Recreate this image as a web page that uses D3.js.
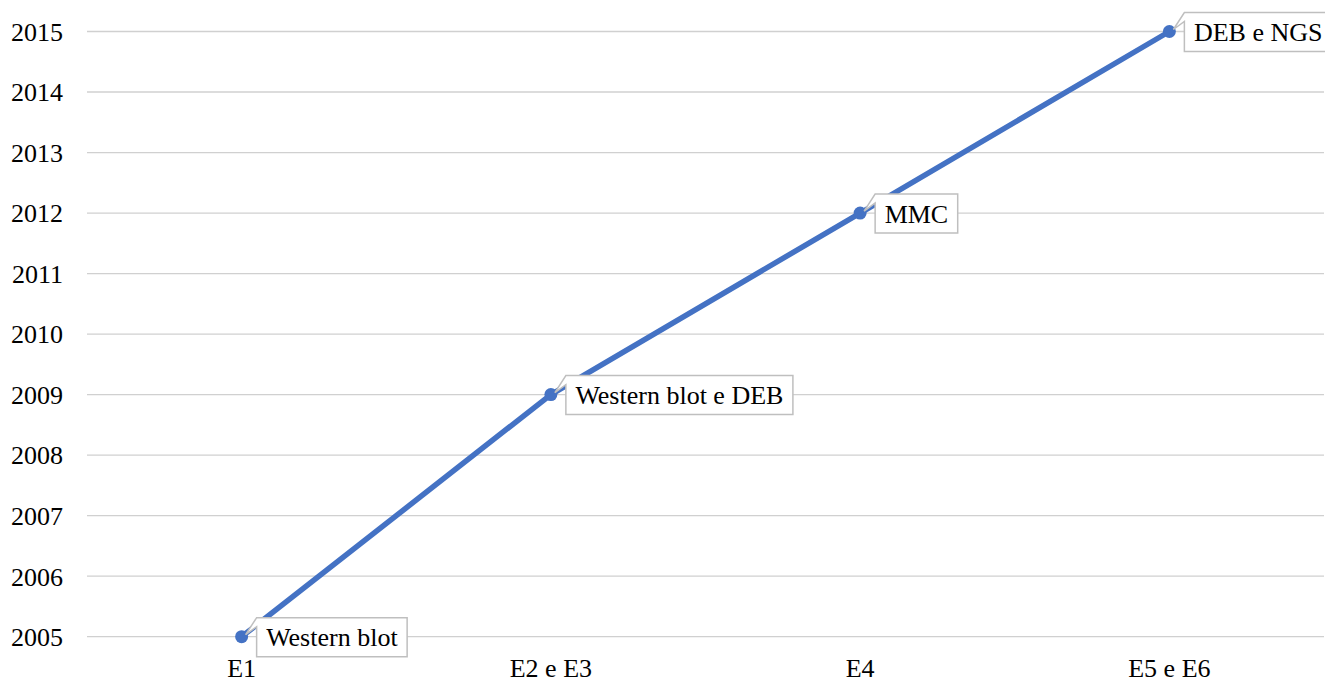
<!DOCTYPE html>
<html><head><meta charset="utf-8">
<script src="https://cdn.jsdelivr.net/npm/d3@7"></script>
<style>
html,body{margin:0;padding:0;background:#fff;}
svg{display:block;}
text{font-family:"Liberation Serif","Times New Roman",serif;fill:#000;}
</style></head>
<body>
<svg id="chart" width="1325" height="680"></svg>
<script>
const categories = ["E1", "E2 e E3", "E4", "E5 e E6"];
const years = [2005, 2009, 2012, 2015];
const pointLabels = ["Western blot", "Western blot e DEB", "MMC", "DEB e NGS"];
const yTicks = [2005, 2006, 2007, 2008, 2009, 2010, 2011, 2012, 2013, 2014, 2015];

const W = 1325, H = 680;
const margin = {left: 87, right: 1, top: 31.5, bottom: 43.3};
const FS = 26;
const svg = d3.select("#chart");

const x = d3.scaleBand().domain(categories).range([margin.left, W - margin.right]);
const y = d3.scaleLinear().domain([2005, 2015]).range([H - margin.bottom, margin.top]);

// gridlines
svg.append("g").selectAll("line").data(yTicks).join("line")
  .attr("x1", margin.left).attr("x2", W - margin.right)
  .attr("y1", d => y(d)).attr("y2", d => y(d))
  .attr("stroke", "#d0d0d0").attr("stroke-width", 1.3);

// y axis labels
const yAxis = d3.axisLeft(y).tickValues(yTicks).tickFormat(d3.format("d")).tickSize(0).tickPadding(0);
const gy = svg.append("g").attr("transform", "translate(63,0)").call(yAxis);
gy.attr("font-family", null).attr("font-size", null);
gy.select(".domain").remove();
gy.selectAll("text").attr("font-size", FS).attr("fill", "#000").attr("dy", "0.34em");

// x axis labels
const xAxis = d3.axisBottom(x).tickSize(0).tickPadding(0);
const gx = svg.append("g").attr("transform", `translate(0,${H - 22})`).call(xAxis);
gx.attr("font-family", null).attr("font-size", null);
gx.select(".domain").remove();
gx.selectAll("text").attr("font-size", FS).attr("fill", "#000").attr("dy", "0.73em");

const pts = categories.map((c, i) => ({cx: x(c) + x.bandwidth() / 2, cy: y(years[i]), label: pointLabels[i]}));

// line
const line = d3.line().x(d => d.cx).y(d => d.cy);
svg.append("path").datum(pts).attr("d", line)
  .attr("fill", "none").attr("stroke", "#4472C4").attr("stroke-width", 5.5).attr("stroke-linejoin", "round");

// markers
svg.append("g").selectAll("circle").data(pts).join("circle")
  .attr("cx", d => d.cx).attr("cy", d => d.cy).attr("r", 6.5).attr("fill", "#4472C4");

// callout labels
const lg = svg.append("g");
pts.forEach(d => {
  const g = lg.append("g");
  const t = g.append("text").attr("font-size", FS).text(d.label);
  const tw = t.node().getComputedTextLength();
  const bx = d.cx + 15, by = d.cy - 19, bw = tw + 19, bh = 39;
  const tipX = d.cx + 4, tipY = d.cy - 2;
  const path = `M${bx},${by} L${bx + bw},${by} L${bx + bw},${by + bh} L${bx},${by + bh} L${bx},${by + 9} L${tipX},${tipY} Z`;
  g.insert("path", "text").attr("d", path).attr("fill", "#fff").attr("stroke", "#bfbfbf").attr("stroke-width", 1.5);
  t.attr("x", bx + 9.5).attr("y", by + bh / 2).attr("dy", "0.35em");
});
</script>
</body></html>
